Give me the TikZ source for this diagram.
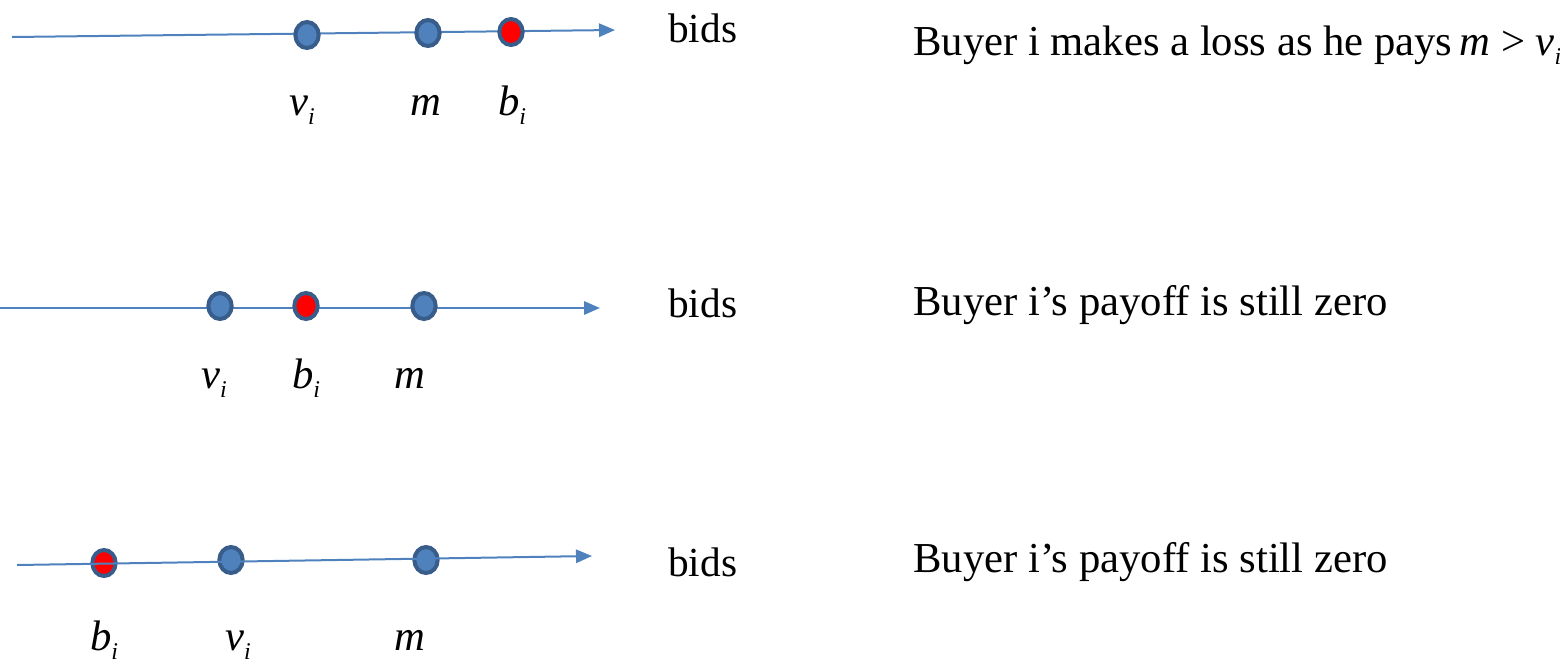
\documentclass[tikz,border=0pt]{standalone}
\usepackage{fontspec}
\setmainfont{LiberationSerif}[Extension=.ttf, UprightFont=*-Regular, ItalicFont=*-Italic, BoldFont=*-Bold, BoldItalicFont=*-BoldItalic]
\usetikzlibrary{arrows.meta,positioning,shapes.geometric}
\definecolor{axisblue}{HTML}{4F81BD}
\definecolor{dotblue}{HTML}{4F81BD}
\definecolor{dotedge}{HTML}{385D8A}
\definecolor{bidred}{HTML}{FF0000}
\newcommand{\bidvar}[2]{\textit{#1}\raisebox{-0.5ex}{\fontsize{18}{18}\selectfont\textit{#2}}}

\begin{document}
\begin{tikzpicture}[
  x=0.75pt, y=-0.75pt,
  font=\fontsize{31}{37}\selectfont, >={Triangle[length=12pt,width=10pt]},
  axis/.style={->, draw=axisblue, line width=1.5pt},
  dot/.style={ellipse, draw=dotedge, line width=3pt, fill=dotblue, minimum width=17.5pt, minimum height=19.5pt, inner sep=0pt},
  bid/.style={dot, fill=bidred},
  lbl/.style={anchor=base, font=\fontsize{32}{38}\selectfont},
  txt/.style={anchor=base west, inner sep=0pt},
  case/.style={txt, font=\fontsize{32}{38}\selectfont},
]
\useasboundingbox (0,0) rectangle (1560,665);
% case 1: bid above the price m, which is above the value
\coordinate (s1) at (12,37);
\coordinate (e1) at (615,30);
\draw[axis] (s1) -- (e1);
\node[dot] (v1) at (307,35) {};
\node[dot] (m1) at (428,33) {};
\node[bid] (b1) at (511,32) {};
\node[lbl] (lv1) at (302,115) {\bidvar{v}{i}};
\node[lbl] (lm1) at (426,115) {\textit{m}};
\node[lbl] (lb1) at (512,115) {\bidvar{b}{i}};
\node[txt] (bids1) at (668,42) {bids};
\node[case] (c1) at (913,55) {Buyer i makes a loss as he pays\,\textit{m} > \bidvar{v}{i}};
% case 2: bid between value and price
\coordinate (s2) at (0,308);
\coordinate (e2) at (600,308);
\draw[axis] (s2) -- (e2);
\node[dot] (v2) at (220,306) {};
\node[bid] (b2) at (306,306) {};
\node[dot] (m2) at (424,306) {};
\node[lbl] (lv2) at (214,388) {\bidvar{v}{i}};
\node[lbl] (lb2) at (306,388) {\bidvar{b}{i}};
\node[lbl] (lm2) at (410,388) {\textit{m}};
\node[txt] (bids2) at (668,317) {bids};
\node[case] (c2) at (913,315) {Buyer i’s payoff is still zero};
% case 3: bid below the value
\node[bid] (b3) at (104,563) {};
\node[dot] (v3) at (231,560) {};
\node[dot] (m3) at (426,560) {};
\coordinate (s3) at (17,565);
\coordinate (e3) at (592,556);
\draw[axis] (s3) -- (e3);
\node[lbl] (lb3) at (104,650) {\bidvar{b}{i}};
\node[lbl] (lv3) at (238,650) {\bidvar{v}{i}};
\node[lbl] (lm3) at (410,650) {\textit{m}};
\node[txt] (bids3) at (668,576) {bids};
\node[case] (c3) at (913,572) {Buyer i’s payoff is still zero};
\end{tikzpicture}
\end{document}
